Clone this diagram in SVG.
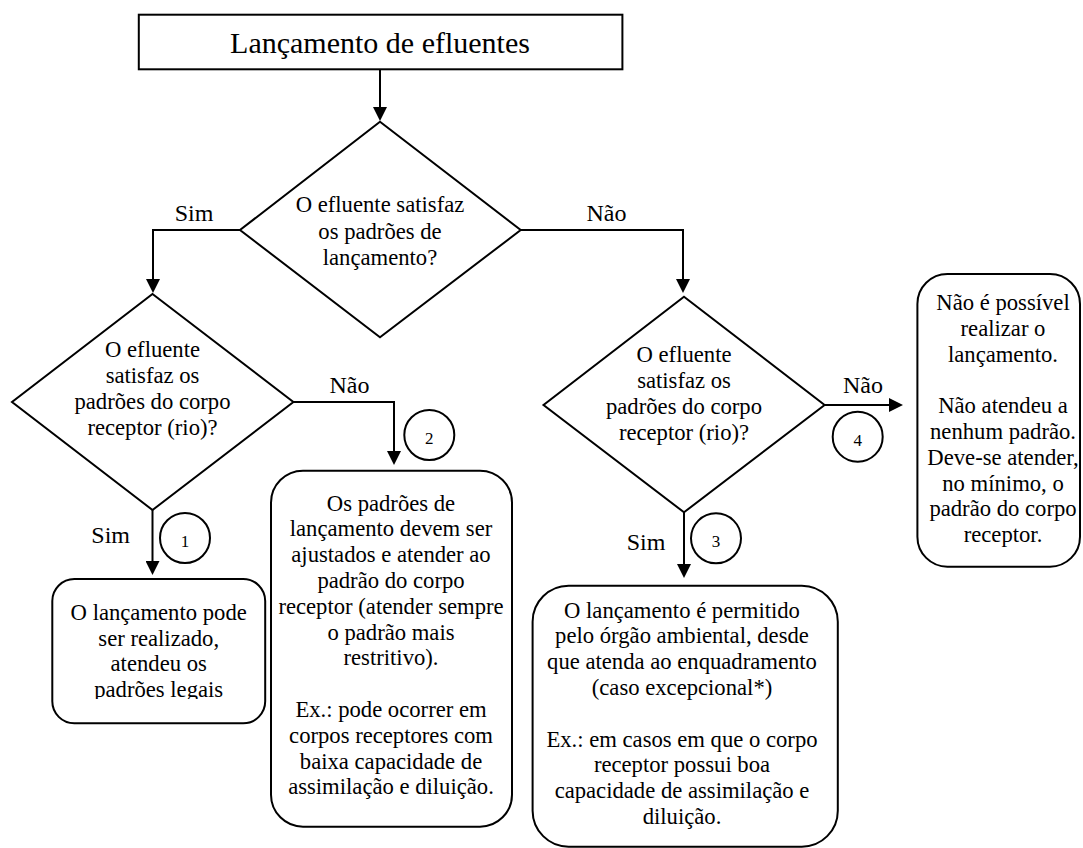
<svg xmlns="http://www.w3.org/2000/svg" width="1083" height="848" viewBox="0 0 1083 848">
<style>
.s{fill:none;stroke:#000;stroke-width:2}
.n{fill:#fff;stroke:#000;stroke-width:2}
text{font-family:'Liberation Serif','Times New Roman',serif;fill:#000;text-anchor:middle}
.t{font-size:22.67px}
.l{font-size:24px}
.d{font-size:17px}
.h{font-size:30px}
</style>
<defs>
<marker id="ah" markerUnits="userSpaceOnUse" markerWidth="14" markerHeight="14" refX="1" refY="7" orient="auto">
<path d="M0,0 L14,7 L0,14 Z" fill="#000"/>
</marker>
<clipPath id="c1"><rect x="40" y="570" width="240" height="129"/></clipPath>
</defs>
<rect width="1083" height="848" fill="#fff"/>
<g id="connectors" font-family="Liberation Serif, serif">
<path class="s" d="M380,70 V108" marker-end="url(#ah)"/>
<path class="s" d="M240,230 H153 V280" marker-end="url(#ah)"/>
<path class="s" d="M520.7,230 H683 V280" marker-end="url(#ah)"/>
<path class="s" d="M293.4,402 H394 V452" marker-end="url(#ah)"/>
<path class="s" d="M152.5,510 V562" marker-end="url(#ah)"/>
<path class="s" d="M684,512 V565" marker-end="url(#ah)"/>
<path class="s" d="M824.6,405 H890" marker-end="url(#ah)"/>
<text class="l" x="194" y="220.7">Sim</text>
<text class="l" x="606.5" y="220.7">Não</text>
<text class="l" x="349.5" y="393.3">Não</text>
<text class="l" x="110.7" y="543.3">Sim</text>
<text class="l" x="863" y="393.3">Não</text>
<text class="l" x="646" y="550">Sim</text>
<circle class="n" cx="185" cy="538" r="25"/>
<text class="d" x="185" y="547">1</text>
<circle class="n" cx="429.3" cy="435" r="25"/>
<text class="d" x="429.3" y="444">2</text>
<circle class="n" cx="716" cy="538.3" r="25"/>
<text class="d" x="716" y="547.3">3</text>
<circle class="n" cx="857.7" cy="436.7" r="25"/>
<text class="d" x="857.7" y="445.7">4</text>
</g>
<g id="start">
<rect class="n" x="138.8" y="14.7" width="483.6" height="54.6"/>
<text class="h" x="380" y="53.3">Lançamento de efluentes</text>
</g>
<g id="decision1">
<polygon class="n" points="380,121.7 520.7,230 380,337.3 240,230"/>
<text class="t" x="380" y="212.3">O efluente satisfaz</text>
<text class="t" x="380" y="238.8">os padrões de</text>
<text class="t" x="380" y="265.3">lançamento?</text>
</g>
<g id="decision2">
<polygon class="n" points="152.5,294 293.4,402 152.5,510 12,402"/>
<text class="t" x="152.5" y="357.3">O efluente</text>
<text class="t" x="152.5" y="383.3">satisfaz os</text>
<text class="t" x="152.5" y="409.3">padrões do corpo</text>
<text class="t" x="152.5" y="435.3">receptor (rio)?</text>
</g>
<g id="decision3">
<polygon class="n" points="684,296.7 824.6,405 684,512.3 543.5,405"/>
<text class="t" x="684" y="361.7">O efluente</text>
<text class="t" x="684" y="387.7">satisfaz os</text>
<text class="t" x="684" y="413.7">padrões do corpo</text>
<text class="t" x="684" y="439.7">receptor (rio)?</text>
</g>
<g id="result1">
<rect class="n" x="52.3" y="579" width="212.9" height="144.3" rx="22" ry="22"/>
<text class="t" x="158.7" y="620">O lançamento pode</text>
<text class="t" x="158.7" y="645.7">ser realizado,</text>
<text class="t" x="158.7" y="671.3">atendeu os</text>
<text class="t" x="158.7" y="697" clip-path="url(#c1)">padrões legais</text>
</g>
<g id="result2">
<rect class="n" x="271" y="470.7" width="241" height="356" rx="32" ry="32"/>
<text class="t" x="391" y="510.5">Os padrões de</text>
<text class="t" x="391" y="536.3">lançamento devem ser</text>
<text class="t" x="391" y="562.1">ajustados e atender ao</text>
<text class="t" x="391" y="587.9">padrão do corpo</text>
<text class="t" x="391" y="613.7">receptor (atender sempre</text>
<text class="t" x="391" y="639.5">o padrão mais</text>
<text class="t" x="391" y="665.3">restritivo).</text>
<text class="t" x="391" y="716.9">Ex.: pode ocorrer em</text>
<text class="t" x="391" y="742.7">corpos receptores com</text>
<text class="t" x="391" y="768.5">baixa capacidade de</text>
<text class="t" x="391" y="794.3">assimilação e diluição.</text>
</g>
<g id="result3">
<rect class="n" x="532.6" y="585.7" width="305.2" height="261" rx="36" ry="36"/>
<text class="t" x="682" y="617.5">O lançamento é permitido</text>
<text class="t" x="682" y="643.3">pelo órgão ambiental, desde</text>
<text class="t" x="682" y="669.1">que atenda ao enquadramento</text>
<text class="t" x="682" y="694.9">(caso excepcional*)</text>
<text class="t" x="682" y="746.5">Ex.: em casos em que o corpo</text>
<text class="t" x="682" y="772.3">receptor possui boa</text>
<text class="t" x="682" y="798.1">capacidade de assimilação e</text>
<text class="t" x="682" y="823.9">diluição.</text>
</g>
<g id="result4">
<rect class="n" x="917.4" y="274" width="162.6" height="292.7" rx="30" ry="30"/>
<text class="t" x="1003" y="310">Não é possível</text>
<text class="t" x="1003" y="335.8">realizar o</text>
<text class="t" x="1003" y="361.6">lançamento.</text>
<text class="t" x="1003" y="413.2">Não atendeu a</text>
<text class="t" x="1003" y="439">nenhum padrão.</text>
<text class="t" x="1003" y="464.8">Deve-se atender,</text>
<text class="t" x="1003" y="490.6">no mínimo, o</text>
<text class="t" x="1003" y="516.4">padrão do corpo</text>
<text class="t" x="1003" y="542.2">receptor.</text>
</g>
</svg>
